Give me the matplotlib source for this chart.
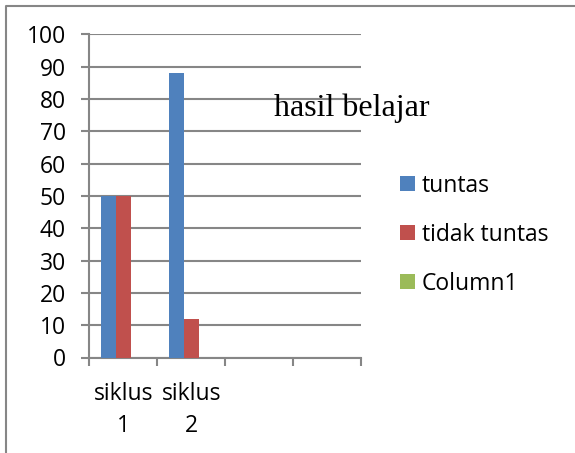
import matplotlib
matplotlib.use('Agg')
import matplotlib.pyplot as plt
from matplotlib.lines import Line2D
import numpy as np

# data
categories = ['siklus\n1', 'siklus\n2', '', '']
tuntas = [50, 88, 0, 0]
tidak_tuntas = [50, 12, 0, 0]
column1 = [0, 0, 0, 0]
series_names = ['tuntas', 'tidak tuntas', 'Column1']
colors = ['#4F81BD', '#C0504D', '#9BBB59']
title = 'hasil belajar'

plt.rcParams['font.family'] = ['Open Sans', 'DejaVu Sans']
grid_c = '#868686'

W, H = 575, 453
fig = plt.figure(figsize=(W / 100, H / 100), dpi=100)
ax = fig.add_axes([89.3 / W, (H - 357.5) / H, (361 - 89.3) / W, (357.5 - 34.3) / H])

x = np.arange(len(categories))
bw = 15 / 68
for k, (vals, name) in enumerate(zip([tuntas, tidak_tuntas, column1], series_names)):
    ax.bar(x + (k - 1) * bw, vals, width=bw, color=colors[k], label=name,
           edgecolor='none', zorder=3)

ax.set_xlim(-0.5, len(categories) - 0.5)
ax.set_ylim(0, 100)
ax.set_yticks(range(0, 101, 10))
ax.grid(axis='y', color=grid_c, linewidth=1.5, zorder=1)
for s in ['top', 'right']:
    ax.spines[s].set_visible(False)
for s in ['left', 'bottom']:
    ax.spines[s].set_color(grid_c)
    ax.spines[s].set_linewidth(1.5)

# category boundaries get the tick marks, labels sit in the middle
ax.set_xticks(np.arange(-0.5, len(categories), 1.0))
ax.set_xticklabels([])
ax.set_xticks(x, minor=True)
ax.set_xticklabels(categories, minor=True, fontsize=16.5, linespacing=1.42)
ax.tick_params(axis='x', which='major', length=6, width=1.5, color=grid_c)
ax.tick_params(axis='x', which='minor', length=0, pad=18)
ax.tick_params(axis='y', length=6, width=1.5, color=grid_c, labelsize=16.5, pad=11)

fig.text(352 / W, 1 - 108 / H, title, family='Liberation Serif', fontsize=23,
         ha='center', va='center')

leg = ax.legend(loc='upper left', bbox_to_anchor=(400 / W, 1 - 174 / H),
                bbox_transform=fig.transFigure, frameon=False, fontsize=16.5,
                handlelength=0.66, handleheight=0.63, handletextpad=0.3,
                labelspacing=1.08, borderaxespad=0, borderpad=0)

# outer chart frame
fig.add_artist(Line2D([6 / W, 6 / W, 1], [0, 1 - 5.5 / H, 1 - 5.5 / H],
                      transform=fig.transFigure, color=grid_c, linewidth=1.5))

fig.savefig('out.png', dpi=100)
